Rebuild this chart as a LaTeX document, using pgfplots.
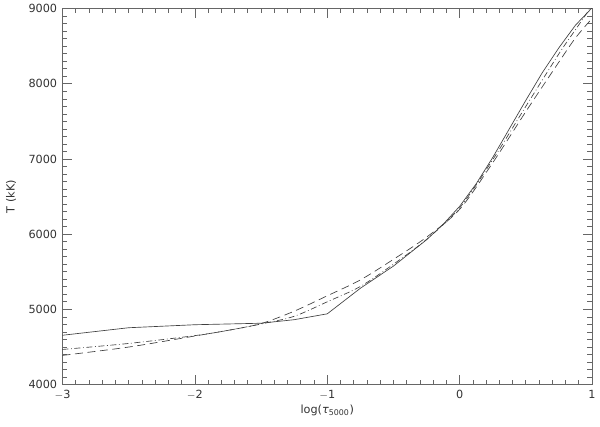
\documentclass[border=0pt]{standalone}
\usepackage{pgfplots}
\pgfplotsset{compat=1.18}
\usepackage{fontspec}
\setmainfont{DejaVu Sans}
\begin{document}
\begin{tikzpicture}
\path (-47.25pt,-31.5pt) rectangle (402.75pt,287.25pt);
\begin{axis}[
  at={(0,0)}, anchor=south west,
  scale only axis, width=400.5pt, height=284.25pt,
  xmin=-3, xmax=1, ymin=4000, ymax=9000,
  xtick={-3,-2,-1,0,1}, ytick={4000,5000,6000,7000,8000,9000},
  minor x tick num=9, minor y tick num=9,
  xtick pos=both, ytick pos=both,
  tick align=inside,
  major tick length=7pt, minor tick length=3.5pt,
  xtick style={draw=black!60, line width=0.5pt},
  ytick style={draw=black!60, line width=0.5pt},
  axis line style={black!60, line width=0.5pt},
  /pgf/number format/assume math mode=true,
  /pgf/number format/1000 sep={},
  ticklabel style={font=\fontsize{8.5}{10}\selectfont, text=black!80},
  xticklabels={$-$3,$-$2,$-$1,0,1},
  xticklabel style={yshift=-1pt},
  yticklabel style={xshift=-0.5pt},
  xlabel={log(\textit{τ}\textsubscript{5000})},
  ylabel={T (kK)},
  label style={font=\fontsize{8.5}{10}\selectfont, text=black!80},
  xlabel style={yshift=3pt},
  ylabel style={yshift=2.5pt},
  clip=true,
]
\addplot[black!75, line width=0.5pt] coordinates {
(-3,4655) (-2.5,4755) (-2,4795) (-1.5,4815) (-1.25,4862) (-1,4940)
(-0.875,5110) (-0.75,5280) (-0.5,5575) (-0.25,5925) (-0.125,6130)
(0,6370) (0.125,6670) (0.25,7020) (0.375,7400) (0.5,7780) (0.625,8150)
(0.75,8480) (0.875,8780) (1,9010)};
\addplot[black!75, line width=0.5pt, smooth, dash pattern=on 4.5pt off 2pt on 0.6pt off 2pt] coordinates {
(-3,4466) (-2.5,4546) (-2,4650) (-1.75,4720) (-1.5,4805) (-1.25,4907)
(-1,5100) (-0.75,5304) (-0.5,5600) (-0.25,5930) (0,6350) (0.25,6990)
(0.5,7700) (0.75,8400) (0.875,8720) (1,9040)};
\addplot[black!75, line width=0.5pt, smooth, dash pattern=on 6pt off 3.5pt] coordinates {
(-3,4387) (-2.5,4498) (-2,4645) (-1.75,4720) (-1.5,4810) (-1.25,4975)
(-1,5180) (-0.75,5391) (-0.5,5665) (-0.25,5960) (0,6330) (0.25,6950)
(0.5,7630) (0.75,8290) (0.875,8610) (1,8870)};
\end{axis}
\end{tikzpicture}
\end{document}
